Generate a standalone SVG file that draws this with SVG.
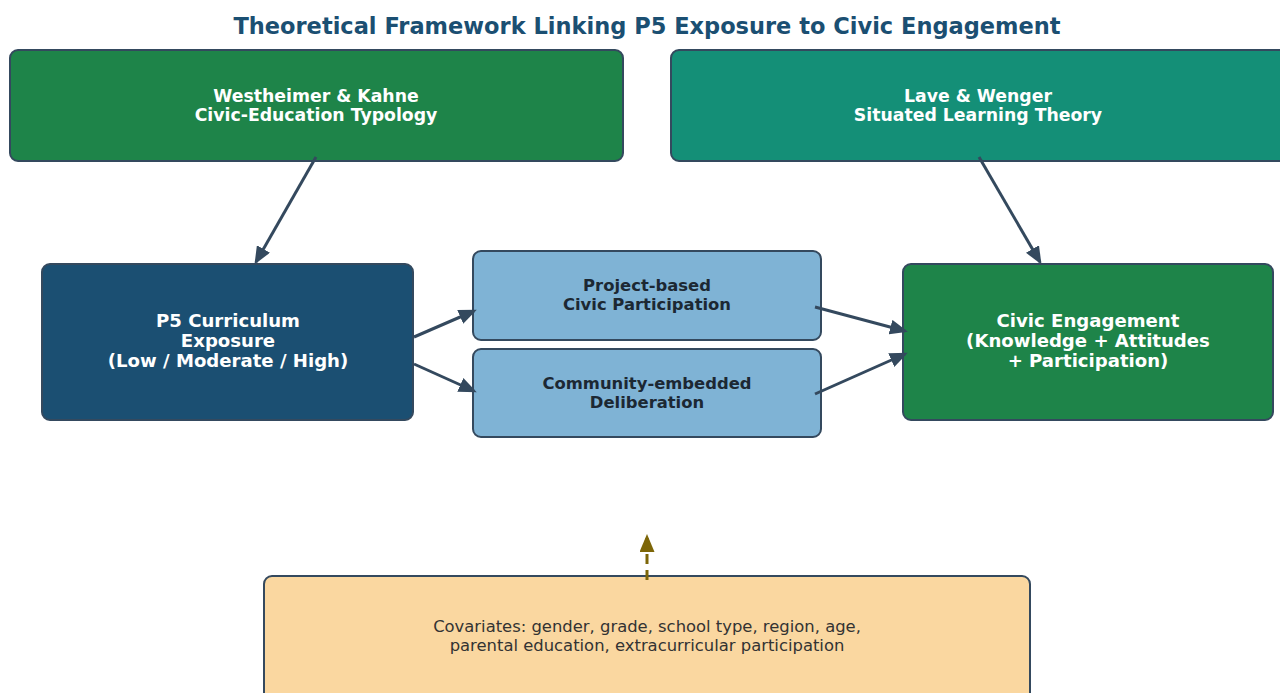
<svg xmlns="http://www.w3.org/2000/svg" width="1280" height="693" viewBox="0 0 1280 693">
  <style>
    .box { stroke: #34495e; stroke-width: 2; }
    .lbl { font-family: "DejaVu Sans", "Liberation Sans", sans-serif; font-weight: bold; text-anchor: middle; }
    .light { fill: #ffffff; }
    .dark { fill: #1c2833; }
    .top { font-size: 17.3px; }
    .mid { font-size: 16.4px; }
    .big { font-size: 18.1px; }
    .note { font-family: "DejaVu Sans", "Liberation Sans", sans-serif; font-size: 16.4px; fill: #333333; text-anchor: middle; }
    .edge { fill: none; stroke: #34495e; stroke-width: 3; }
    .dashed { fill: none; stroke: #7d6608; stroke-width: 3; stroke-dasharray: 10 6; }
  </style>
  <defs>
    <marker id="arr" markerWidth="6" markerHeight="5" refX="5" refY="2.5" orient="auto" markerUnits="strokeWidth">
      <path d="M0,0 L6,2.5 L0,5 Z" fill="#34495e"/>
    </marker>
    <marker id="arrGold" markerWidth="6" markerHeight="5" refX="5" refY="2.5" orient="auto" markerUnits="strokeWidth">
      <path d="M0,0 L6,2.5 L0,5 Z" fill="#7d6608"/>
    </marker>
  </defs>
  <rect width="1280" height="693" fill="#ffffff"/>

  <text x="647" y="34" font-family="DejaVu Sans, Liberation Sans, sans-serif" font-weight="bold" font-size="22.5" fill="#1b4f72" text-anchor="middle">Theoretical Framework Linking P5 Exposure to Civic Engagement</text>

  <g id="westheimer-kahne">
    <rect class="box" x="10" y="50" width="613" height="111" rx="8" fill="#1e8449"/>
    <text class="lbl light top" x="316" y="102">Westheimer &amp; Kahne</text>
    <text class="lbl light top" x="316" y="121">Civic-Education Typology</text>
  </g>

  <g id="lave-wenger">
    <rect class="box" x="671" y="50" width="620" height="111" rx="8" fill="#148f77"/>
    <text class="lbl light top" x="978" y="102">Lave &amp; Wenger</text>
    <text class="lbl light top" x="978" y="121">Situated Learning Theory</text>
  </g>

  <g id="p5-exposure">
    <rect class="box" x="42" y="264" width="371" height="156" rx="8" fill="#1b4f72"/>
    <text class="lbl light big" x="228" y="327">P5 Curriculum</text>
    <text class="lbl light big" x="228" y="347">Exposure</text>
    <text class="lbl light big" x="228" y="367">(Low / Moderate / High)</text>
  </g>

  <g id="project-based">
    <rect class="box" x="473" y="251" width="348" height="89" rx="8" fill="#7fb3d5"/>
    <text class="lbl dark mid" x="647" y="291">Project-based</text>
    <text class="lbl dark mid" x="647" y="310">Civic Participation</text>
  </g>

  <g id="community-deliberation">
    <rect class="box" x="473" y="349" width="348" height="88" rx="8" fill="#7fb3d5"/>
    <text class="lbl dark mid" x="647" y="389">Community-embedded</text>
    <text class="lbl dark mid" x="647" y="408">Deliberation</text>
  </g>

  <g id="civic-engagement">
    <rect class="box" x="903" y="264" width="370" height="156" rx="8" fill="#1e8449"/>
    <text class="lbl light big" x="1088" y="327">Civic Engagement</text>
    <text class="lbl light big" x="1088" y="347">(Knowledge + Attitudes</text>
    <text class="lbl light big" x="1088" y="367">+ Participation)</text>
  </g>

  <g id="covariates">
    <rect class="box" x="264" y="576" width="766" height="130" rx="8" fill="#fad7a0"/>
    <text class="note" x="647" y="632">Covariates: gender, grade, school type, region, age,</text>
    <text class="note" x="647" y="651">parental education, extracurricular participation</text>
  </g>

  <g id="connectors">
    <line class="edge" x1="316" y1="157" x2="256" y2="262" marker-end="url(#arr)"/>
    <line class="edge" x1="979" y1="157" x2="1040" y2="262" marker-end="url(#arr)"/>
    <line class="edge" x1="414" y1="337" x2="474" y2="311" marker-end="url(#arr)"/>
    <line class="edge" x1="414" y1="364" x2="474" y2="391" marker-end="url(#arr)"/>
    <line class="edge" x1="815" y1="307" x2="905" y2="331" marker-end="url(#arr)"/>
    <line class="edge" x1="815" y1="394" x2="905" y2="354" marker-end="url(#arr)"/>
    <line class="dashed" x1="647" y1="580" x2="647" y2="537" marker-end="url(#arrGold)"/>
  </g>
</svg>
